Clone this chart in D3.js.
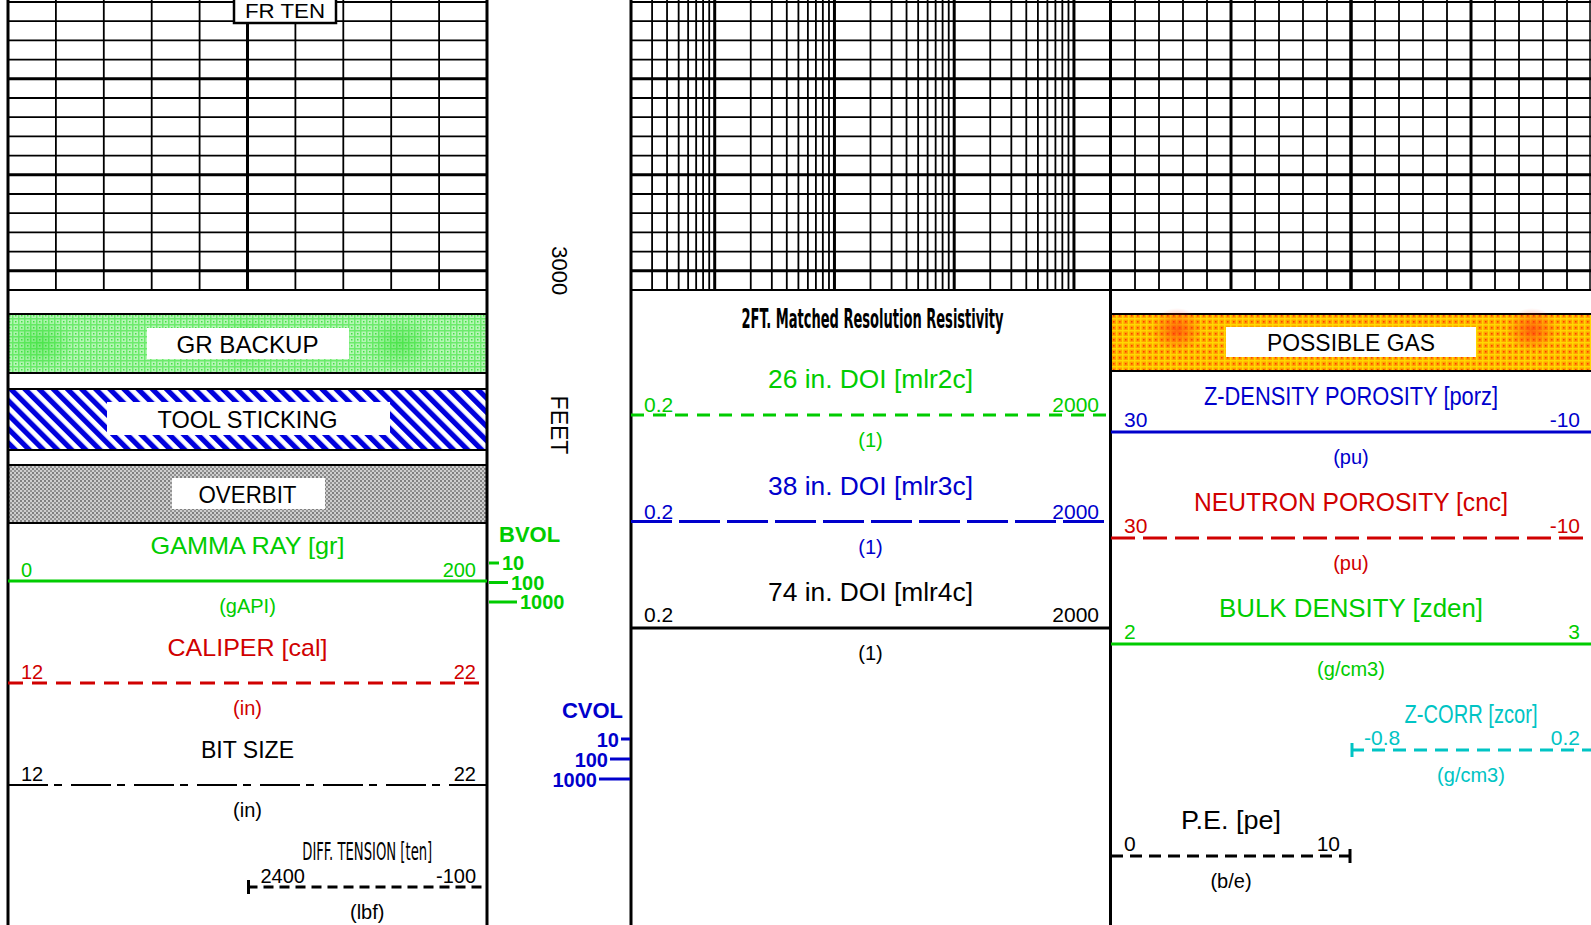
<!DOCTYPE html>
<html><head><meta charset="utf-8">
<script src="https://cdn.jsdelivr.net/npm/d3@7"></script>
<style>
body{margin:0;background:#fff;}
svg{display:block;}
text{font-family:"Liberation Sans", Arial, Helvetica, sans-serif;}
</style>
</head><body>
<svg id="c" width="1591" height="925"></svg>
<script>
// ---------------- DATA ----------------
const depthRange = [2972, 3002];          // feet shown in the grid
const depthLabel = "3000";
const depthUnit = "FEET";
const logDomain = [0.2, 2000];

const t1Titles = ["GAMMA RAY  [gr]", "CALIPER  [cal]", "BIT SIZE", "DIFF. TENSION  [ten]"];
const t1Min = [0, 12, 12, 2400];
const t1Max = [200, 22, 22, -100];
const t1Units = ["(gAPI)", "(in)", "(in)", "(lbf)"];

const t2Titles = ["26 in. DOI [mlr2c]", "38 in. DOI [mlr3c]", "74 in. DOI [mlr4c]"];
const t2Min = [0.2, 0.2, 0.2];
const t2Max = [2000, 2000, 2000];
const t2Units = ["(1)", "(1)", "(1)"];
const t2Header = "2FT. Matched Resolution Resistivity";

const t3Titles = ["Z-DENSITY POROSITY [porz]", "NEUTRON POROSITY [cnc]", "BULK DENSITY [zden]", "Z-CORR [zcor]", "P.E. [pe]"];
const t3Min = [30, 30, 2, -0.8, 0];
const t3Max = [-10, -10, 3, 0.2, 10];
const t3Units = ["(pu)", "(pu)", "(g/cm3)", "(g/cm3)", "(b/e)"];

const t1Shades = ["GR BACKUP", "TOOL STICKING", "OVERBIT"];
const t3Shades = ["POSSIBLE GAS"];
const topLabel = "FR TEN";

const bvolName = "BVOL", cvolName = "CVOL";
const bvolTicks = [10, 100, 1000];
const cvolTicks = [10, 100, 1000];

// ---------------- STYLE / LAYOUT ----------------
const GREEN = "#00cc00", BLUE = "#0000cc", RED = "#d00000", CYAN = "#00c4c4", BLACK = "#000";
const t1Style = [
  {c: GREEN, dash: null, w: 3, span: "full", tl: 194},
  {c: RED, dash: "15,9", w: 3, span: "full", tl: 160},
  {c: BLACK, dash: "40,6,8,9", w: 2, span: "full", tl: 93},
  {c: BLACK, dash: "10,6", w: 3, span: "right", tl: 130, narrow: true, tick: true}
];
const t2Style = [
  {c: GREEN, dash: "13,9", w: 3, tl: 205},
  {c: BLUE, dash: "41,7", w: 3, tl: 205},
  {c: BLACK, dash: null, w: 3, tl: 205}
];
const t3Style = [
  {c: BLUE, dash: null, w: 3, span: "full", tl: 294},
  {c: RED, dash: "24,8", w: 3, span: "full", tl: 314},
  {c: GREEN, dash: null, w: 3, span: "full", tl: 264},
  {c: CYAN, dash: "13,8", w: 3, span: "right", tl: 133, tick: "left"},
  {c: BLACK, dash: "12,7", w: 3, span: "left", tl: 100, tick: "right"}
];

const W = 1591, H = 925;
const T1 = [8, 487], T2 = [631, 1110], T3 = [1111, 1591];
const svg = d3.select("#c");
svg.append("rect").attr("width", W).attr("height", H).attr("fill", "#fff");
const defs = svg.append("defs");

// ---- patterns ----
function pat(id, size, bg, parts, transform) {
  const p = defs.append("pattern").attr("id", id).attr("patternUnits", "userSpaceOnUse")
    .attr("width", size).attr("height", size);
  if (transform) p.attr("patternTransform", transform);
  p.append("rect").attr("width", size).attr("height", size).attr("fill", bg);
  parts.forEach(q => p.append("rect").attr("x", q[0]).attr("y", q[1]).attr("width", q[2]).attr("height", q[3]).attr("fill", q[4]));
}
pat("pGreen", 6, "#b6f6b6", [[0,0,6,1.5,"#6ceb6c"],[0,0,1.5,6,"#6ceb6c"],[3,3,1.5,1.5,"#44e044"]]);
pat("pStripe", 10, "#fff", [[0,0,5.2,10,"#0000dd"]], "rotate(-45)");
pat("pGray", 4, "#cfcfcf", [[0,0,2,2,"#808080"],[2,2,2,2,"#939393"]]);
pat("pGas", 6, "#ffa200", [[0,0,6,1.5,"#ffd800"],[0,0,1.5,6,"#ffd800"],[3,3,1.5,1.5,"#ff3a00"]]);

function radial(id, color, op) {
  const g = defs.append("radialGradient").attr("id", id);
  g.append("stop").attr("offset", "0%").attr("stop-color", color).attr("stop-opacity", op);
  g.append("stop").attr("offset", "100%").attr("stop-color", color).attr("stop-opacity", 0);
}
radial("gGreen", "#22dd22", 0.45);
radial("gRed", "#ff3010", 0.65);

// ---------------- GRID ----------------
const yDepth = d3.scaleLinear().domain(depthRange).range([2, 290]);
const depthTicks = d3.range(depthRange[0], depthRange[1] + 1, 2);
const grid = svg.append("g").attr("stroke", "#000");

[T1, T2, T3].forEach(t => {
  grid.selectAll(null).data(depthTicks).enter().append("line")
    .attr("x1", t[0]).attr("x2", t[1])
    .attr("y1", d => yDepth(d)).attr("y2", d => yDepth(d))
    .attr("stroke-width", d => d % 10 === 0 ? 3 : 1.8);
});

const x1g = d3.scaleLinear().domain([0, 10]).range(T1);
grid.selectAll(null).data(d3.range(1, 10)).enter().append("line")
  .attr("x1", d => x1g(d)).attr("x2", d => x1g(d)).attr("y1", 0).attr("y2", 290)
  .attr("stroke-width", d => d === 5 ? 3 : 1.8);

const x3g = d3.scaleLinear().domain([0, 20]).range(T3);
grid.selectAll(null).data(d3.range(1, 20)).enter().append("line")
  .attr("x1", d => x3g(d)).attr("x2", d => x3g(d)).attr("y1", 0).attr("y2", 290)
  .attr("stroke-width", d => d === 10 ? 3.5 : (d % 5 === 0 ? 3 : 1.8));

const xLogG = d3.scaleLog().domain(logDomain).range(T2);
const logLines = [];
for (let e = -1; e <= 3; e++) for (let m = 1; m <= 9; m++) {
  const v = m * Math.pow(10, e);
  if (v > logDomain[0] * 1.001 && v < logDomain[1] * 0.999) logLines.push({v, major: m === 1});
}
grid.selectAll(null).data(logLines).enter().append("line")
  .attr("x1", d => xLogG(d.v)).attr("x2", d => xLogG(d.v)).attr("y1", 0).attr("y2", 290)
  .attr("stroke-width", d => d.major ? 3 : 1.8);
grid.append("line").attr("x1", 1590).attr("x2", 1590).attr("y1", 0).attr("y2", 290).attr("stroke-width", 1.5);

// ---------------- SHADE BOXES ----------------
const t1ShadeY = [[314, 373], [389, 450], [465, 523]];
const t1ShadeFill = ["url(#pGreen)", "url(#pStripe)", "url(#pGray)"];
const t1LabelBox = [[147, 349, 328, 359], [107, 390, 402, 435], [172, 325, 478, 509]];
const t1LabelW = [142, 180, 98];
const t1LabelBase = [353, 428, 503];

function shadeBox(g, x0, x1, y0, y1, fill) {
  g.append("rect").attr("x", x0).attr("y", y0).attr("width", x1 - x0).attr("height", y1 - y0).attr("fill", fill);
  g.append("line").attr("x1", x0).attr("x2", x1).attr("y1", y0).attr("y2", y0).attr("stroke", "#000").attr("stroke-width", 2);
  g.append("line").attr("x1", x0).attr("x2", x1).attr("y1", y1).attr("y2", y1).attr("stroke", "#000").attr("stroke-width", 2);
}
const shades = svg.append("g");
t1Shades.forEach((name, i) => {
  const [y0, y1] = t1ShadeY[i];
  shadeBox(shades, T1[0], T1[1], y0, y1, t1ShadeFill[i]);
  if (i === 0) {
    [40, 245, 400].forEach(cx => shades.append("ellipse").attr("cx", cx).attr("cy", (y0 + y1) / 2)
      .attr("rx", 34).attr("ry", 27).attr("fill", "url(#gGreen)"));
  }
  const b = t1LabelBox[i];
  shades.append("rect").attr("x", b[0]).attr("y", b[2]).attr("width", b[1] - b[0]).attr("height", b[3] - b[2]).attr("fill", "#fff");
  shades.append("text").attr("x", (T1[0] + T1[1]) / 2).attr("y", t1LabelBase[i]).attr("text-anchor", "middle")
    .attr("font-size", 24).attr("textLength", t1LabelW[i]).attr("lengthAdjust", "spacingAndGlyphs").text(name);
});
// gas
shadeBox(shades, T3[0], T3[1], 314, 371, "url(#pGas)");
[1177, 1532].forEach(cx => shades.append("ellipse").attr("cx", cx).attr("cy", 330)
  .attr("rx", 26).attr("ry", 22).attr("fill", "url(#gRed)"));
shades.append("rect").attr("x", 1226).attr("y", 327).attr("width", 250).attr("height", 30).attr("fill", "#fff");
shades.append("text").attr("x", (T3[0] + T3[1]) / 2).attr("y", 351).attr("text-anchor", "middle")
  .attr("font-size", 24).attr("textLength", 168).attr("lengthAdjust", "spacingAndGlyphs").text(t3Shades[0]);

// ---------------- TRACK BORDERS ----------------
const borders = svg.append("g").attr("stroke", "#000").attr("stroke-width", 3);
[T1[0], T1[1], T2[0], T2[1] + 0.5].forEach(x => borders.append("line").attr("x1", x).attr("x2", x).attr("y1", 0).attr("y2", H));

// FR TEN label
svg.append("rect").attr("x", 234).attr("y", -4).attr("width", 102).attr("height", 27)
  .attr("fill", "#fff").attr("stroke", "#000").attr("stroke-width", 2.5);
svg.append("text").attr("x", 285).attr("y", 18).attr("text-anchor", "middle").attr("font-size", 21)
  .attr("textLength", 80).attr("lengthAdjust", "spacingAndGlyphs").text(topLabel);

// depth labels
svg.append("text").attr("transform", "translate(559," + yDepth(3000) + ") rotate(90)")
  .attr("text-anchor", "middle").attr("dominant-baseline", "central").attr("font-size", 22).text(depthLabel);
svg.append("text").attr("transform", "translate(559,425) rotate(90)")
  .attr("text-anchor", "middle").attr("dominant-baseline", "central").attr("font-size", 23).text(depthUnit);

// ---------------- CURVE HEADERS ----------------
function curve(g, x0, x1, scale, vmin, vmax, y, title, unit, st, opts) {
  const xa = scale(vmin), xb = scale(vmax);
  const ln = g.append("line").attr("x1", xa).attr("x2", xb).attr("y1", y).attr("y2", y)
    .attr("stroke", st.c).attr("stroke-width", st.w);
  if (st.dash) ln.attr("stroke-dasharray", st.dash);
  const cx = (xa + xb) / 2;
  const fam = st.narrow ? "'Liberation Sans Narrow','DejaVu Sans Condensed',Arial,sans-serif" : null;
  const t = g.append("text").attr("x", cx).attr("y", y - 27).attr("text-anchor", "middle")
    .attr("font-size", opts.tfs).attr("fill", st.c).attr("textLength", st.tl).attr("lengthAdjust", "spacingAndGlyphs").text(title);
  if (fam) t.style("font-family", fam);
  const lo = Math.min(xa, xb), hi = Math.max(xa, xb);
  g.append("text").attr("x", lo + 13).attr("y", y - opts.lo).attr("font-size", opts.lfs).attr("fill", st.c).text(String(vmin));
  g.append("text").attr("x", hi - 11).attr("y", y - opts.lo).attr("text-anchor", "end").attr("font-size", opts.lfs).attr("fill", st.c).text(String(vmax));
  g.append("text").attr("x", cx).attr("y", y + 32).attr("text-anchor", "middle").attr("font-size", opts.ufs).attr("fill", st.c).text(unit);
  if (st.tick) {
    const tx = (st.tick === "right") ? hi - 1 : lo + 1;
    g.append("line").attr("x1", tx).attr("x2", tx).attr("y1", y - 7).attr("y2", y + 7).attr("stroke", st.c).attr("stroke-width", 3);
  }
}
const hdr = svg.append("g");
const mid1 = (T1[0] + T1[1]) / 2, mid3 = (T3[0] + T3[1]) / 2;
const row1 = d3.scaleLinear().domain([0, 1]).range([581, 683]);
t1Titles.forEach((name, i) => {
  const st = t1Style[i];
  const r = st.span === "right" ? [mid1, T1[1]] : T1;
  const s = d3.scaleLinear().domain([t1Min[i], t1Max[i]]).range(r);
  curve(hdr, r[0], r[1], s, t1Min[i], t1Max[i], row1(i), name, t1Units[i], st, {tfs: 24, lfs: 20, ufs: 20, lo: 4});
});
const row2 = d3.scaleLinear().domain([0, 1]).range([415, 521.5]);
hdr.append("text").attr("x", (T2[0] + T2[1]) / 2 + 2).attr("y", 328).attr("text-anchor", "middle")
  .attr("font-size", 27).attr("font-weight", "bold")
  .style("font-family", "'Liberation Sans Narrow','DejaVu Sans Condensed',Arial,sans-serif")
  .attr("textLength", 262).attr("lengthAdjust", "spacingAndGlyphs").text(t2Header);
t2Titles.forEach((name, i) => {
  const s = d3.scaleLog().domain([t2Min[i], t2Max[i]]).range(T2);
  curve(hdr, T2[0], T2[1], s, t2Min[i], t2Max[i], row2(i), name, t2Units[i], t2Style[i], {tfs: 26, lfs: 21, ufs: 20, lo: i === 2 ? 6 : 3});
});
const row3 = d3.scaleLinear().domain([0, 1]).range([432, 538]);
t3Titles.forEach((name, i) => {
  const st = t3Style[i];
  const r = st.span === "right" ? [mid3, T3[1]] : (st.span === "left" ? [T3[0], mid3] : T3);
  const s = d3.scaleLinear().domain([t3Min[i], t3Max[i]]).range(r);
  curve(hdr, r[0], r[1], s, t3Min[i], t3Max[i], row3(i), name, t3Units[i], st, {tfs: 26, lfs: 21, ufs: 20, lo: 5});
});

// ---------------- BVOL / CVOL scales ----------------
const vol = svg.append("g").attr("font-weight", "bold");
vol.append("text").attr("x", 499).attr("y", 542).attr("font-size", 22).attr("fill", GREEN).text(bvolName);
const bY = d3.scaleLog().domain([10, 1000]).range([563, 602]);
const bL = d3.scaleLog().domain([10, 1000]).range([10, 28]);
bvolTicks.forEach(v => {
  vol.append("line").attr("x1", 489).attr("x2", 489 + bL(v)).attr("y1", bY(v)).attr("y2", bY(v)).attr("stroke", GREEN).attr("stroke-width", 3);
  vol.append("text").attr("x", 489 + bL(v) + 3).attr("y", bY(v) + 7).attr("font-size", 20).attr("fill", GREEN).text(v);
});
vol.append("text").attr("x", 623).attr("y", 718).attr("text-anchor", "end").attr("font-size", 22).attr("fill", BLUE).text(cvolName);
const cY = d3.scaleLog().domain([10, 1000]).range([739, 779]);
const cL = d3.scaleLog().domain([10, 1000]).range([9, 31]);
cvolTicks.forEach(v => {
  vol.append("line").attr("x1", 630 - cL(v)).attr("x2", 630).attr("y1", cY(v)).attr("y2", cY(v)).attr("stroke", BLUE).attr("stroke-width", 3);
  vol.append("text").attr("x", 630 - cL(v) - 2).attr("y", cY(v) + 8).attr("text-anchor", "end").attr("font-size", 20).attr("fill", BLUE).text(v);
});
</script>
</body></html>
